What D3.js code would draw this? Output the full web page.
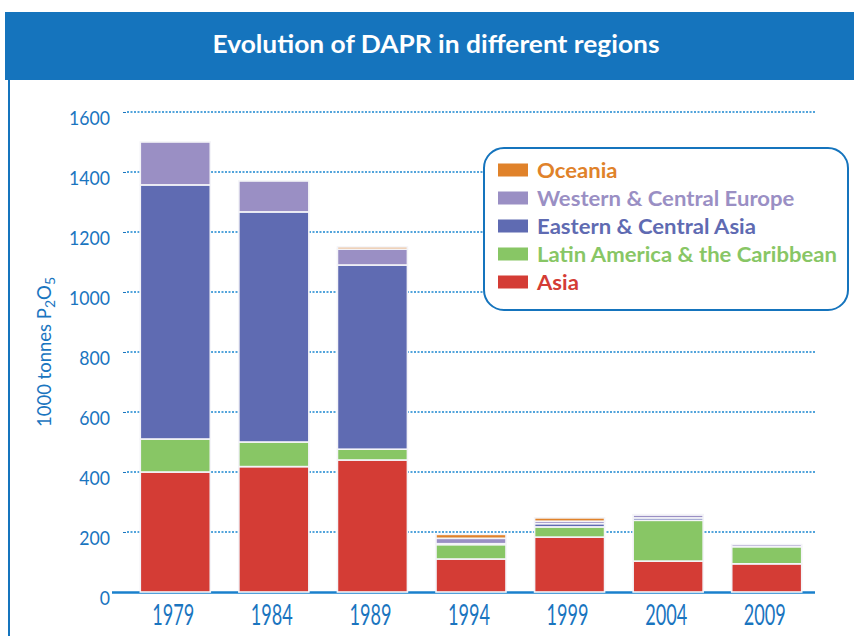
<!DOCTYPE html>
<html><head><meta charset="utf-8">
<script src="https://cdn.jsdelivr.net/npm/d3@7"></script>
<style>body{margin:0;background:#fff}</style>
</head><body>
<svg id="c" width="854" height="636"></svg>
<script>
const years = ["1979","1984","1989","1994","1999","2004","2009"];
const seriesNames = ["Asia","Latin America & the Caribbean","Eastern & Central Asia","Western & Central Europe","Oceania"];
const asia     = [400, 418, 440, 110, 183, 103, 94];
const latin    = [110,  82,  36,  48,  34, 136, 57];
const eastern  = [847, 767, 614,   3,  11,   8,  0];
const western  = [143, 103,  53,  18,   8,  10,  7];
const oceania  = [  0,   0,   7,  13,  11,   1,  0];
const colors = ["#d43c35","#88c665","#5f6bb2","#9a8fc4","#e0822a"];
const yTicks = [0,200,400,600,800,1000,1200,1400,1600];
const legendOrder = [4,3,2,1,0];

const svg = d3.select("#c");
const blue = "#1a75bf";
const font = "Lato, 'Open Sans', sans-serif";

function squeeze(sel, factor){
  sel.each(function(){
    const l = this.getComputedTextLength();
    this.setAttribute("textLength", l*factor);
    this.setAttribute("lengthAdjust","spacingAndGlyphs");
  });
}
function factorFor(node, target){ return target / node.getComputedTextLength(); }

// header
svg.append("rect").attr("x",5).attr("y",12).attr("width",849).attr("height",68).attr("fill","#1574bd");
const title = svg.append("text").attr("x",436).attr("y",53).attr("text-anchor","middle")
  .attr("fill","#fff").attr("font-family",font).attr("font-weight","bold")
  .attr("font-size",24).text("Evolution of DAPR in different regions");
squeeze(title, factorFor(title.node(), 447));
// left frame line
svg.append("line").attr("x1",9).attr("x2",9).attr("y1",80).attr("y2",636).attr("stroke","#1574bd").attr("stroke-width",2);

const data = years.map((y,i)=>({year:y, Asia:asia[i], "Latin America & the Caribbean":latin[i],
  "Eastern & Central Asia":eastern[i], "Western & Central Europe":western[i], Oceania:oceania[i]}));
const stack = d3.stack().keys(seriesNames)(data);

const x = d3.scaleBand().domain(years).range([126,816]).paddingInner(0.29).paddingOuter(0.145);
const y = d3.scaleLinear().domain([0,1600]).range([592,112]);

// gridlines
svg.append("g").selectAll("line").data(yTicks.filter(d=>d>0)).join("line")
  .attr("x1",127).attr("x2",815).attr("y1",d=>y(d)).attr("y2",d=>y(d))
  .attr("stroke","#1a86d0").attr("stroke-width",1.3).attr("stroke-dasharray","2,1.5");

// y axis labels
const ya = svg.append("g").attr("transform","translate(126,0)")
  .call(d3.axisLeft(y).tickValues(yTicks).tickFormat(d3.format("d")).tickSize(3).tickPadding(13));
ya.select(".domain").remove();
ya.selectAll("line").attr("stroke",blue);
const ytx = ya.selectAll("text").attr("fill",blue).attr("font-family",font).attr("font-size",20).attr("dy","0.62em");
squeeze(ytx, factorFor(ytx.filter(d=>d===1000).node(), 41));

// baseline
svg.append("line").attr("x1",112).attr("x2",815).attr("y1",592.5).attr("y2",592.5).attr("stroke","#1a80cc").attr("stroke-width",2.5);

// bars
svg.append("g").selectAll("g").data(stack).join("g").attr("fill",(d,i)=>colors[i])
  .selectAll("rect").data(d=>d).join("rect")
  .attr("x",d=>x(d.data.year)).attr("width",x.bandwidth())
  .attr("y",d=>y(d[1])).attr("height",d=>Math.max(0,y(d[0])-y(d[1])))
  .attr("stroke",d=>(d[1]-d[0])>0?"#f4f4f8":"none").attr("stroke-width",1.6);

// x labels
const xa = svg.append("g").attr("transform","translate(0,592)")
  .call(d3.axisBottom(x).tickSize(0).tickPadding(0));
xa.select(".domain").remove();
const xtx = xa.selectAll("text").attr("fill",blue).attr("font-family",font).attr("font-size",28)
  .attr("dy",null).attr("y",33).attr("dx",-2);
squeeze(xtx, factorFor(xtx.node(), 42));

// y title
const yt = svg.append("text").attr("transform","translate(51,352) rotate(-90)")
  .attr("text-anchor","middle").attr("fill",blue)
  .attr("font-family",font).attr("font-size",18.5);
yt.append("tspan").text("1000 tonnes P");
yt.append("tspan").attr("font-size",14).attr("dy",4).text("2");
yt.append("tspan").attr("dy",-4).text("O");
yt.append("tspan").attr("font-size",14).attr("dy",4).text("5");

// legend
svg.append("rect").attr("x",484).attr("y",148).attr("width",364).attr("height",162).attr("rx",20)
  .attr("fill","#fff").attr("stroke","#1574bd").attr("stroke-width",2);
const lg = svg.append("g").selectAll("g").data(legendOrder).join("g")
  .attr("transform",(d,i)=>`translate(498,${170+i*28})`);
lg.append("rect").attr("x",0).attr("y",-6.5).attr("width",30).attr("height",13).attr("fill",d=>colors[d]);
const ltx = lg.append("text").attr("x",39).attr("y",0).attr("dy","0.36em").attr("fill",d=>colors[d])
  .attr("font-family",font).attr("font-weight","bold").attr("font-size",21)
  .text(d=>seriesNames[d]);
squeeze(ltx, factorFor(ltx.filter(d=>d===1).node(), 300));
</script>
</body></html>
